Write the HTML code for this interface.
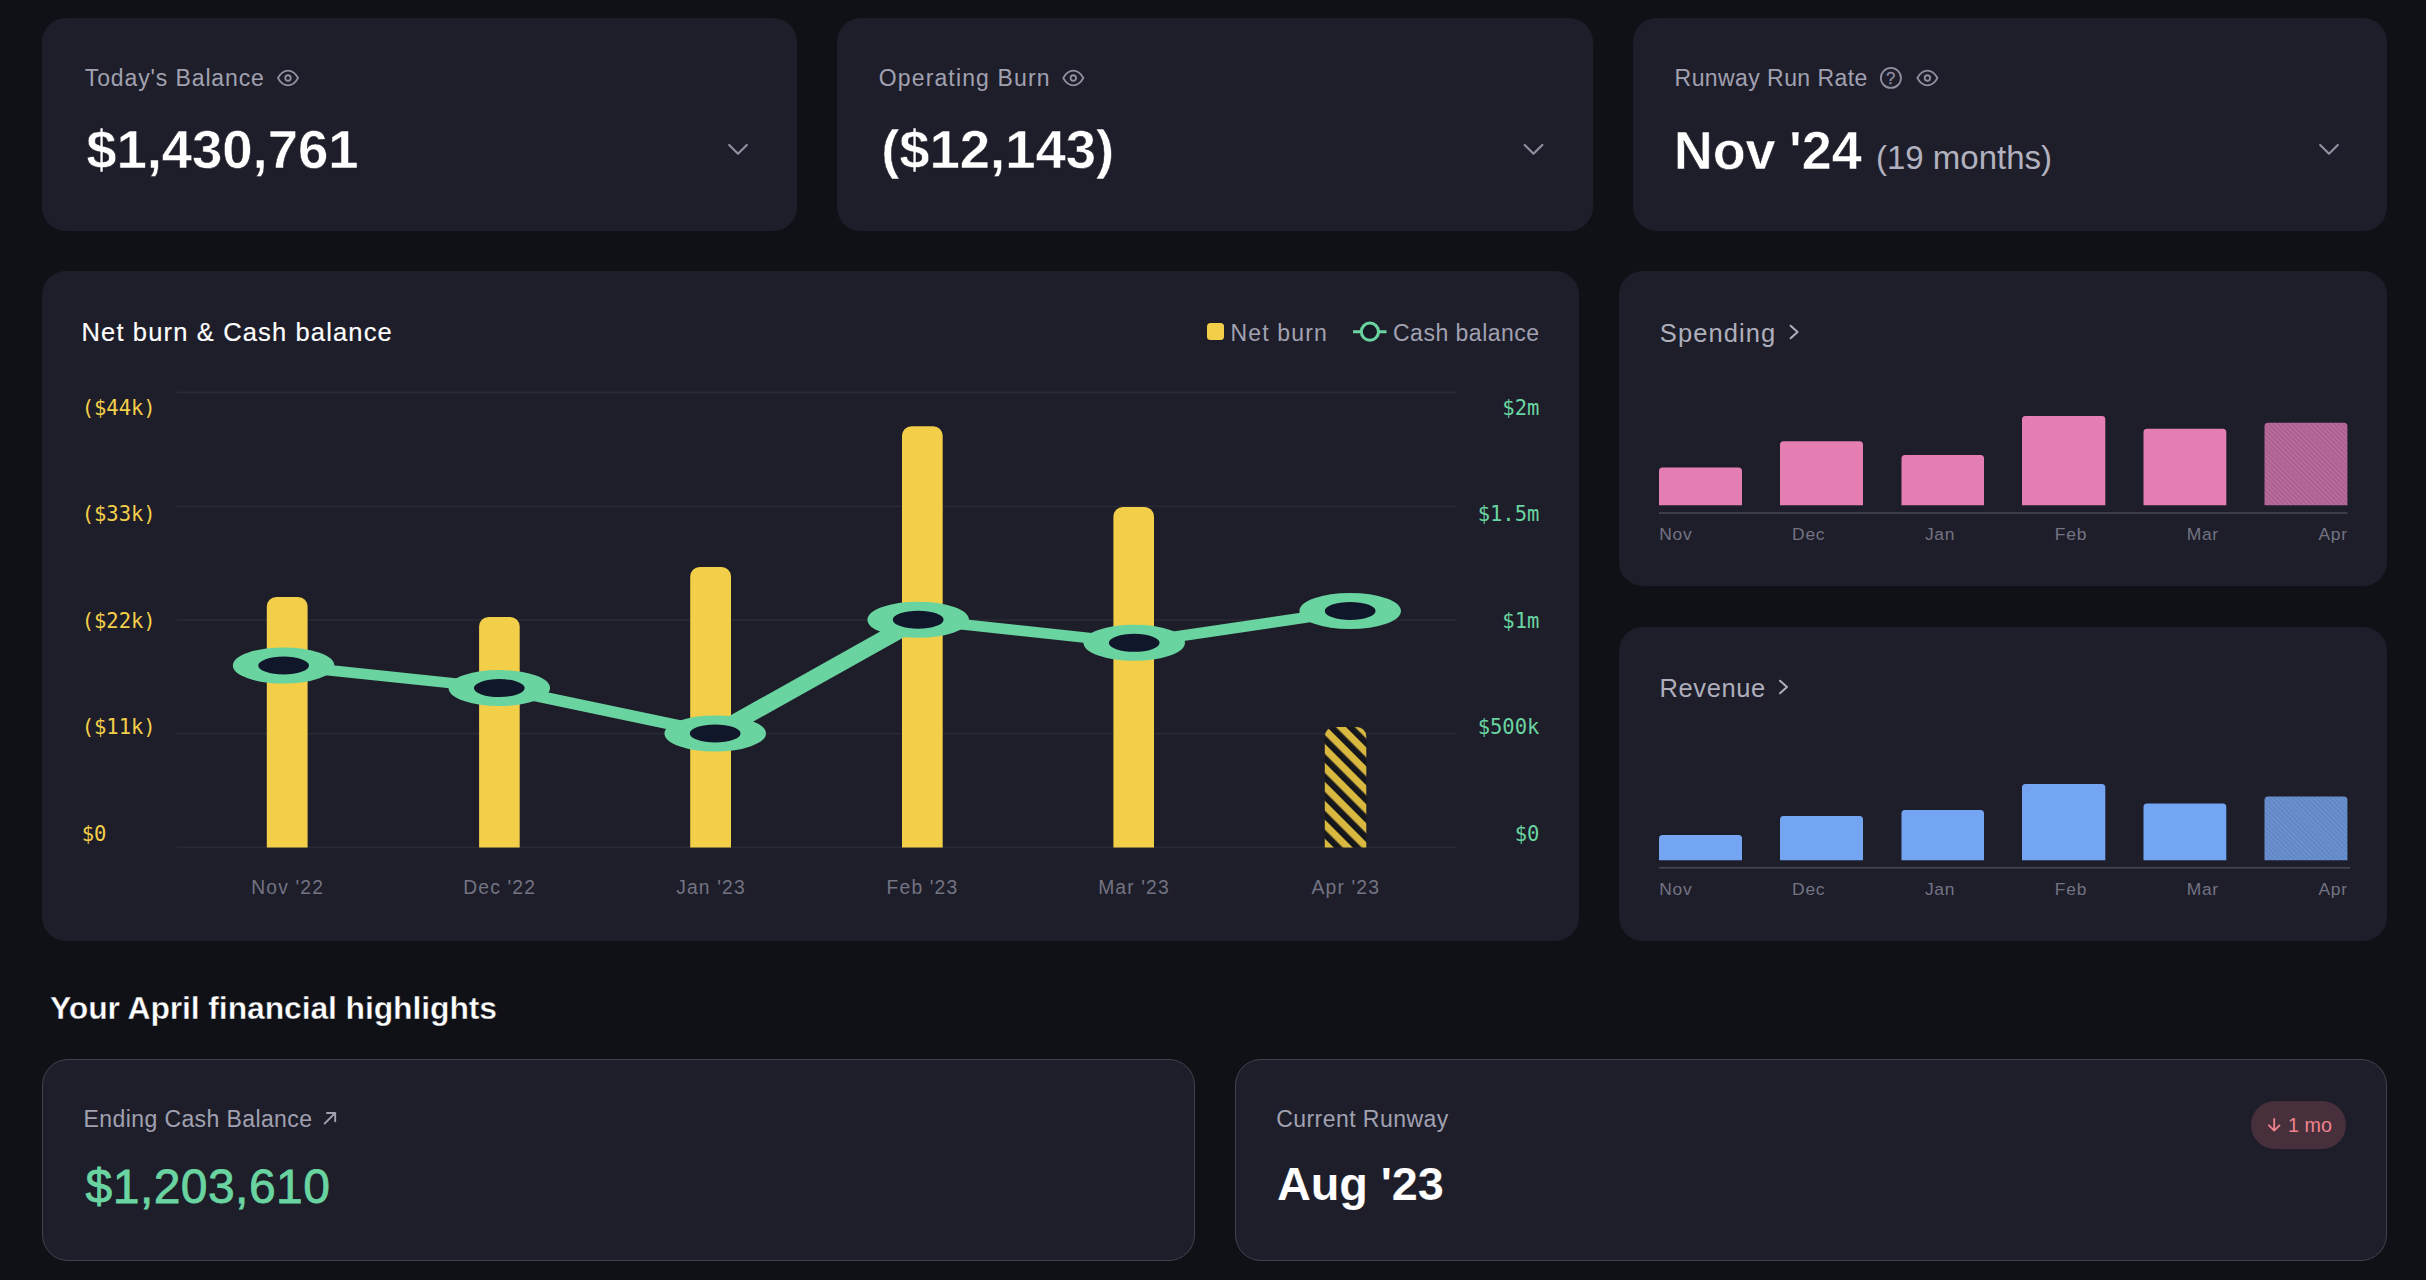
<!DOCTYPE html>
<html lang="en">
<head>
<meta charset="utf-8">
<title>Financial dashboard</title>
<style>
*{box-sizing:border-box;margin:0;padding:0}
html,body{width:2426px;height:1280px;overflow:hidden;background:#101117}
body{position:relative;font-family:"Liberation Sans",sans-serif;color:#fff}
.card{position:absolute;background:#1e1e2a;border-radius:24px}
.abs{position:absolute;white-space:nowrap;line-height:1}
.lbl{color:#a1a1b1;font-size:23px}
.big{font-size:54.5px;font-weight:700;color:#fff;-webkit-text-stroke:.55px #1e1e2a}
.mono{font-family:"DejaVu Sans Mono","Liberation Mono",monospace;font-size:20.55px;color:#f3ce49;letter-spacing:-.05px}
.monor{font-family:"DejaVu Sans Mono","Liberation Mono",monospace;font-size:20.55px;letter-spacing:-.05px;color:#6ad4a1;text-align:right;width:100px}
.xl{color:#737382;font-size:19.3px;text-align:center;width:140px;letter-spacing:1.15px}
.sl{color:#737382;font-size:17.4px;letter-spacing:.75px}
.hcard{position:absolute;background:#1e1e2a;border:1.6px solid #41424d;border-radius:26px}
svg{position:absolute;left:0;top:0;overflow:visible}
</style>
</head>
<body>

<!-- top stat cards -->
<div class="card" style="left:42px;top:18px;width:755.2px;height:212.8px"></div>
<div class="card" style="left:836.5px;top:18px;width:756.2px;height:212.8px"></div>
<div class="card" style="left:1632.9px;top:18px;width:754.2px;height:212.8px"></div>
<div class="abs lbl" id="t1" style="left:84.8px;top:66.5px;letter-spacing:.88px">Today's Balance</div>
<div class="abs big" id="v1" style="left:86.2px;top:122.6px;letter-spacing:-.05px">$1,430,761</div>
<div class="abs lbl" id="t2" style="left:878.8px;top:66.5px;letter-spacing:1.13px">Operating Burn</div>
<div class="abs big" id="v2" style="left:881.2px;top:122.6px;letter-spacing:-.05px">($12,143)</div>
<div class="abs lbl" id="t3" style="left:1674.6px;top:66.5px;letter-spacing:.43px">Runway Run Rate</div>
<div class="abs big" id="v3" style="left:1673.7px;top:122.9px;font-size:54px;letter-spacing:-.05px;word-spacing:-1.5px">Nov '24</div>
<div class="abs" id="v3b" style="left:1876px;top:141px;font-size:33px;color:#b1b1bf">(19 months)</div>
<!-- main chart card -->
<div class="card" style="left:42px;top:270.6px;width:1537.2px;height:670.4px"></div>
<div class="abs" id="ct" style="left:81.5px;top:320.2px;font-size:25.5px;color:#fff;letter-spacing:1.15px;-webkit-text-stroke:.15px #fff">Net burn &amp; Cash balance</div>
<div class="abs" style="left:1207px;top:323px;width:17px;height:17px;border-radius:3.5px;background:#f3ce49"></div>
<div class="abs" id="lg1" style="left:1230.5px;top:321.6px;font-size:23px;color:#a1a1b1;letter-spacing:1.17px">Net burn</div>
<div class="abs" id="lg2" style="left:1393px;top:321.6px;font-size:23px;color:#a1a1b1;letter-spacing:.5px">Cash balance</div>
<div class="abs mono" id="yl0" style="left:81.7px;top:397.9px">($44k)</div>
<div class="abs monor" id="yr0" style="left:1439.3px;top:397.9px">$2m</div>
<div class="abs mono" id="yl1" style="left:81.7px;top:504.3px">($33k)</div>
<div class="abs monor" id="yr1" style="left:1439.3px;top:504.3px">$1.5m</div>
<div class="abs mono" id="yl2" style="left:81.7px;top:610.7px">($22k)</div>
<div class="abs monor" id="yr2" style="left:1439.3px;top:610.7px">$1m</div>
<div class="abs mono" id="yl3" style="left:81.7px;top:717.1px">($11k)</div>
<div class="abs monor" id="yr3" style="left:1439.3px;top:717.1px">$500k</div>
<div class="abs mono" id="yl4" style="left:81.7px;top:823.5px">$0</div>
<div class="abs monor" id="yr4" style="left:1439.3px;top:823.5px">$0</div>
<div class="abs xl" id="xl0" style="left:217.7px;top:877.8px">Nov '22</div>
<div class="abs xl" id="xl1" style="left:429.7px;top:877.8px">Dec '22</div>
<div class="abs xl" id="xl2" style="left:641.0px;top:877.8px">Jan '23</div>
<div class="abs xl" id="xl3" style="left:852.5px;top:877.8px">Feb '23</div>
<div class="abs xl" id="xl4" style="left:1064.0px;top:877.8px">Mar '23</div>
<div class="abs xl" id="xl5" style="left:1275.8px;top:877.8px">Apr '23</div>
<svg width="2426" height="1280" viewBox="0 0 2426 1280">
<defs><pattern id="hz" width="13.4" height="13.4" patternUnits="userSpaceOnUse" patternTransform="translate(1324.8 743.8) rotate(-45)"><rect x="0" y="0" width="13.4" height="13.4" fill="#16161d"/><rect x="6.3" y="0" width="7.1" height="13.4" fill="#d9b840"/></pattern>
<pattern id="hp" width="3.3" height="3.3" patternUnits="userSpaceOnUse" patternTransform="rotate(-45)"><rect width="3.3" height="3.3" fill="#b86b9d"/><rect width="1.5" height="3.3" fill="#aa5e90"/></pattern>
<pattern id="hb" width="3.3" height="3.3" patternUnits="userSpaceOnUse" patternTransform="rotate(-45)"><rect width="3.3" height="3.3" fill="#6b91d0"/><rect width="1.5" height="3.3" fill="#6085c3"/></pattern></defs>
<rect x="177" y="391.6" width="1279" height="1.8" fill="#292934"/>
<rect x="177" y="505.4" width="1279" height="1.8" fill="#292934"/>
<rect x="177" y="619.1" width="1279" height="1.8" fill="#292934"/>
<rect x="177" y="732.7" width="1279" height="1.8" fill="#292934"/>
<rect x="177" y="846.4" width="1279" height="1.8" fill="#292934"/>
<path d="M266.8 847.6V606.5a9.5 9.5 0 0 1 9.5 -9.5H298.1a9.5 9.5 0 0 1 9.5 9.5V847.6Z" fill="#f3ce49"/>
<path d="M479.1 847.6V626.5a9.5 9.5 0 0 1 9.5 -9.5H510.20000000000005a9.5 9.5 0 0 1 9.5 9.5V847.6Z" fill="#f3ce49"/>
<path d="M690.2 847.6V576.5a9.5 9.5 0 0 1 9.5 -9.5H721.5a9.5 9.5 0 0 1 9.5 9.5V847.6Z" fill="#f3ce49"/>
<path d="M902 847.6V435.7a9.5 9.5 0 0 1 9.5 -9.5H933.2a9.5 9.5 0 0 1 9.5 9.5V847.6Z" fill="#f3ce49"/>
<path d="M1113.4 847.6V516.5a9.5 9.5 0 0 1 9.5 -9.5H1144.5a9.5 9.5 0 0 1 9.5 9.5V847.6Z" fill="#f3ce49"/>
<path d="M1324.8 847.6V736.5a9.5 9.5 0 0 1 9.5 -9.5H1356.8a9.5 9.5 0 0 1 9.5 9.5V847.6Z" fill="url(#hz)"/>
<g transform="scale(2.82 1)" fill="#10172a" stroke="#6ad4a1">
<polyline fill="none" stroke-width="10.2" stroke-linejoin="round" points="100.57,665.5 177.06,688.1 253.62,733.4 325.60,619.7 402.20,642.8 478.79,610.9"/>
<circle cx="100.57" cy="665.5" r="13.5" stroke-width="9"/>
<circle cx="177.06" cy="688.1" r="13.5" stroke-width="9"/>
<circle cx="253.62" cy="733.4" r="13.5" stroke-width="9"/>
<circle cx="325.60" cy="619.7" r="13.5" stroke-width="9"/>
<circle cx="402.20" cy="642.8" r="13.5" stroke-width="9"/>
<circle cx="478.79" cy="610.9" r="13.5" stroke-width="9"/>
</g>
<path d="M1353 331.7H1386.5" stroke="#6ad4a1" stroke-width="3" fill="none"/><circle cx="1369.9" cy="331.7" r="8.6" fill="#161a26" stroke="#6ad4a1" stroke-width="3"/>
</svg>
<!-- side cards -->
<div class="card" style="left:1618.8px;top:270.6px;width:768.3px;height:315.3px"></div>
<div class="card" style="left:1618.8px;top:627px;width:768.3px;height:314px"></div>
<div class="abs" id="sp" style="left:1659.8px;top:321px;font-size:25.5px;color:#aeaebc;letter-spacing:1.1px">Spending</div>
<div class="abs" id="rv" style="left:1659.5px;top:676px;font-size:25.5px;color:#aeaebc;letter-spacing:.62px">Revenue</div>
<svg width="2426" height="1280" viewBox="0 0 2426 1280">
<path d="M1659 505.2V470.9a3.5 3.5 0 0 1 3.5 -3.5H1738.5a3.5 3.5 0 0 1 3.5 3.5V505.2Z" fill="#e57fb3"/>
<path d="M1780 505.2V444.8a3.5 3.5 0 0 1 3.5 -3.5H1859.5a3.5 3.5 0 0 1 3.5 3.5V505.2Z" fill="#e57fb3"/>
<path d="M1901.5 505.2V458.4a3.5 3.5 0 0 1 3.5 -3.5H1980.5a3.5 3.5 0 0 1 3.5 3.5V505.2Z" fill="#e57fb3"/>
<path d="M2022 505.2V419.5a3.5 3.5 0 0 1 3.5 -3.5H2101.8a3.5 3.5 0 0 1 3.5 3.5V505.2Z" fill="#e57fb3"/>
<path d="M2143.5 505.2V432.3a3.5 3.5 0 0 1 3.5 -3.5H2222.8a3.5 3.5 0 0 1 3.5 3.5V505.2Z" fill="#e57fb3"/>
<path d="M2264.5 505.2V426.2a3.5 3.5 0 0 1 3.5 -3.5H2343.9a3.5 3.5 0 0 1 3.5 3.5V505.2Z" fill="url(#hp)"/>
<path d="M1659 860.2V838.6a3.5 3.5 0 0 1 3.5 -3.5H1738.5a3.5 3.5 0 0 1 3.5 3.5V860.2Z" fill="#74a5f3"/>
<path d="M1780 860.2V819.4a3.5 3.5 0 0 1 3.5 -3.5H1859.5a3.5 3.5 0 0 1 3.5 3.5V860.2Z" fill="#74a5f3"/>
<path d="M1901.5 860.2V813.6a3.5 3.5 0 0 1 3.5 -3.5H1980.5a3.5 3.5 0 0 1 3.5 3.5V860.2Z" fill="#74a5f3"/>
<path d="M2022 860.2V787.6a3.5 3.5 0 0 1 3.5 -3.5H2101.8a3.5 3.5 0 0 1 3.5 3.5V860.2Z" fill="#74a5f3"/>
<path d="M2143.5 860.2V806.9a3.5 3.5 0 0 1 3.5 -3.5H2222.8a3.5 3.5 0 0 1 3.5 3.5V860.2Z" fill="#74a5f3"/>
<path d="M2264.5 860.2V800.1a3.5 3.5 0 0 1 3.5 -3.5H2343.9a3.5 3.5 0 0 1 3.5 3.5V860.2Z" fill="url(#hb)"/>
<rect x="1659" y="512.2" width="688.3" height="1.7" fill="#444451"/>
<rect x="1659" y="866.9" width="691" height="1.7" fill="#444451"/>
<path d="M1790.6 325.7L1797.6 332L1790.6 338.3" fill="none" stroke="#aeaebc" stroke-width="2" stroke-linecap="round" stroke-linejoin="round"/>
<path d="M1780 680.7L1787 687L1780 693.3" fill="none" stroke="#aeaebc" stroke-width="2" stroke-linecap="round" stroke-linejoin="round"/>
</svg>
<div class="abs sl" style="left:1659.3px;top:526.3px;width:688.6px;display:flex;justify-content:space-between"><span id="sm0">Nov</span><span id="sm1">Dec</span><span id="sm2">Jan</span><span id="sm3">Feb</span><span id="sm4">Mar</span><span id="sm5">Apr</span></div>
<div class="abs sl" style="left:1659.3px;top:881.3px;width:688.6px;display:flex;justify-content:space-between"><span id="rm0">Nov</span><span id="rm1">Dec</span><span id="rm2">Jan</span><span id="rm3">Feb</span><span id="rm4">Mar</span><span id="rm5">Apr</span></div>
<!-- icons -->
<svg width="2426" height="1280" viewBox="0 0 2426 1280" fill="none" stroke="#8f8fa1" stroke-width="1.8" stroke-linecap="round" stroke-linejoin="round">
<g transform="translate(288.0 78.0) scale(0.915) translate(-12 -12)" stroke-width="1.97"><path d="M1 12C3.8 7 7.4 4 12 4S20.2 7 23 12C20.2 17 16.6 20 12 20S3.8 17 1 12Z"/><circle cx="12" cy="12" r="3"/></g>
<g transform="translate(1073.3 78.0) scale(0.915) translate(-12 -12)" stroke-width="1.97"><path d="M1 12C3.8 7 7.4 4 12 4S20.2 7 23 12C20.2 17 16.6 20 12 20S3.8 17 1 12Z"/><circle cx="12" cy="12" r="3"/></g>
<g transform="translate(1927.4 78.0) scale(0.915) translate(-12 -12)" stroke-width="1.97"><path d="M1 12C3.8 7 7.4 4 12 4S20.2 7 23 12C20.2 17 16.6 20 12 20S3.8 17 1 12Z"/><circle cx="12" cy="12" r="3"/></g>
<circle cx="1890.9" cy="77.9" r="10.05"/>
</svg>
<div class="abs" id="qm" style="left:1886.1px;top:70.5px;font-size:16.8px;color:#8f8fa1;-webkit-text-stroke:.3px #8f8fa1">?</div>
<svg width="2426" height="1280" viewBox="0 0 2426 1280" fill="none" stroke="#8f8fa1" stroke-width="2.2" stroke-linecap="round" stroke-linejoin="round">
<path d="M729.2 145L738 153.7L746.8 145"/>
<path d="M1524.7 145L1533.5 153.7L1542.3 145"/>
<path d="M2320.2 145L2329 153.7L2337.8 145"/>
</svg>
<!-- highlights -->
<div class="abs" id="hh" style="left:50px;top:993px;font-size:31.9px;font-weight:700;color:#fff;letter-spacing:-.1px;-webkit-text-stroke:.4px #101117">Your April financial highlights</div>
<div class="hcard" style="left:42.2px;top:1058.9px;width:1152.5px;height:202.4px"></div>
<div class="hcard" style="left:1234.7px;top:1058.9px;width:1152.4px;height:202.4px"></div>
<div class="abs lbl" id="b1" style="left:83.6px;top:1107.5px;letter-spacing:.4px">Ending Cash Balance</div>
<div class="abs" id="bv1" style="left:85.6px;top:1162.5px;font-size:48px;color:#6ad4a1;letter-spacing:.45px;-webkit-text-stroke:.8px #6ad4a1">$1,203,610</div>
<div class="abs lbl" id="b2" style="left:1276.2px;top:1107.5px;letter-spacing:.45px">Current Runway</div>
<div class="abs" id="bv2" style="left:1277px;top:1161.1px;font-size:46.9px;font-weight:700;color:#fff;letter-spacing:-.1px;-webkit-text-stroke:.15px #1e1e2a">Aug '23</div>
<div class="abs" style="left:2251.2px;top:1100.6px;width:94.4px;height:48.8px;border-radius:25px;background:#47303c"></div>
<div class="abs" id="bd" style="left:2288px;top:1116.1px;font-size:19.7px;color:#f0838c;letter-spacing:.05px">1 mo</div>
<svg width="2426" height="1280" viewBox="0 0 2426 1280" fill="none" stroke-linecap="round" stroke-linejoin="round">
<path d="M324.6 1123.6L335.2 1113M327 1113H335.2V1121.2" stroke="#a1a1b1" stroke-width="1.9"/>
<path d="M2274.2 1119V1130.6M2268.9 1125.3L2274.2 1130.6L2279.5 1125.3" stroke="#f0838c" stroke-width="1.8"/>
</svg>

</body>
</html>
